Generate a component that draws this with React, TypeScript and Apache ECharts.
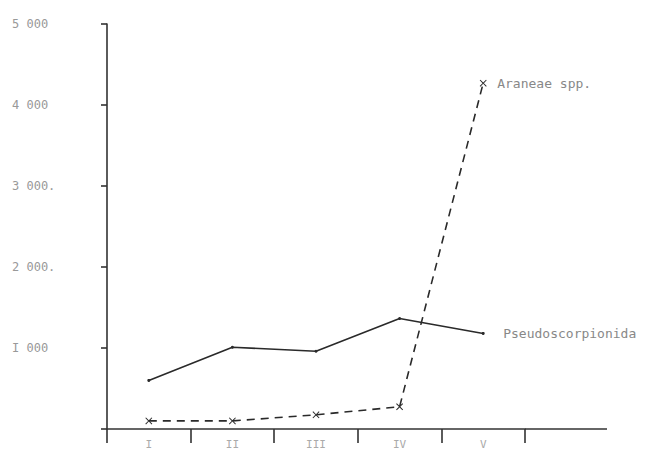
import React, { useEffect, useRef } from "react";
import * as echarts from "echarts";

const categories = ["I", "II", "III", "IV", "V"];
const pseudoscorpionida = [600, 1010, 960, 1365, 1180];
const araneae = [100, 100, 175, 275, 4270];
const yTickLabels: Record<number, string> = {
  0: "",
  1000: "I 000",
  2000: "2 000.",
  3000: "3 000.",
  4000: "4 000",
  5000: "5 000",
};
const seriesNames = ["Pseudoscorpionida", "Araneae spp."];

const crossPath =
  "path://M0,1L1,0L5,4L9,0L10,1L6,5L10,9L9,10L5,6L1,10L0,9L4,5Z";

export default function App() {
  const ref = useRef<HTMLDivElement>(null);
  useEffect(() => {
    document.body.style.margin = "0";
    document.documentElement.style.overflow = "hidden";
    document.body.style.overflow = "hidden";
    if (!ref.current) return;
    const chart = echarts.init(ref.current, null, { renderer: "svg" });
    const mono = "DejaVu Sans Mono";
    chart.setOption({
      animation: false,
      backgroundColor: "#ffffff",
      grid: { left: 107, top: 24, width: 418, height: 412, containLabel: false },
      xAxis: {
        type: "category",
        data: categories,
        boundaryGap: true,
        axisLine: { lineStyle: { color: "#333", width: 1.6 } },
        axisTick: { show: true, length: 14, lineStyle: { color: "#333", width: 1.6 } },
        axisLabel: { color: "#aaa", fontFamily: mono, fontSize: 11, margin: 10 },
        splitLine: { show: false },
      },
      yAxis: {
        type: "value",
        min: 0,
        max: 5000,
        interval: 1000,
        axisLine: { show: true, lineStyle: { color: "#333", width: 1.6 } },
        axisTick: { show: true, length: 6, lineStyle: { color: "#333", width: 1.6 } },
        axisLabel: {
          color: "#999",
          fontFamily: mono,
          fontSize: 12,
          align: "left",
          margin: 95,
          formatter: (v: number) => yTickLabels[v] ?? "",
        },
        splitLine: { show: false },
      },
      series: [
        {
          name: seriesNames[0],
          type: "line",
          data: pseudoscorpionida,
          symbol: "circle",
          symbolSize: 3,
          itemStyle: { color: "#2a2a2a" },
          lineStyle: { color: "#2a2a2a", width: 1.6, type: "solid" },
          endLabel: {
            show: true,
            formatter: seriesNames[0],
            color: "#888",
            fontFamily: mono,
            fontSize: 13,
            distance: 20,
          },
        },
        {
          name: seriesNames[1],
          type: "line",
          data: araneae,
          symbol: crossPath,
          symbolSize: 7,
          itemStyle: { color: "#2a2a2a" },
          lineStyle: { color: "#2a2a2a", width: 1.6, type: [8, 6] },
          endLabel: {
            show: true,
            formatter: seriesNames[1],
            color: "#888",
            fontFamily: mono,
            fontSize: 13,
            distance: 14,
          },
        },
      ],
    });
    const origin = chart.convertToPixel({ gridIndex: 0 }, [4, 0]) as number[];
    const bandEnd = 107 + 418;
    chart.setOption({
      graphic: [
        {
          type: "line",
          shape: { x1: bandEnd, y1: origin[1], x2: bandEnd + 82, y2: origin[1] },
          style: { stroke: "#333", lineWidth: 1.6 },
        },
      ],
    });
    return () => chart.dispose();
  }, []);
  return (
    <div
      ref={ref}
      style={{ position: "fixed", left: 0, top: 0, width: 648, height: 450 }}
    />
  );
}
